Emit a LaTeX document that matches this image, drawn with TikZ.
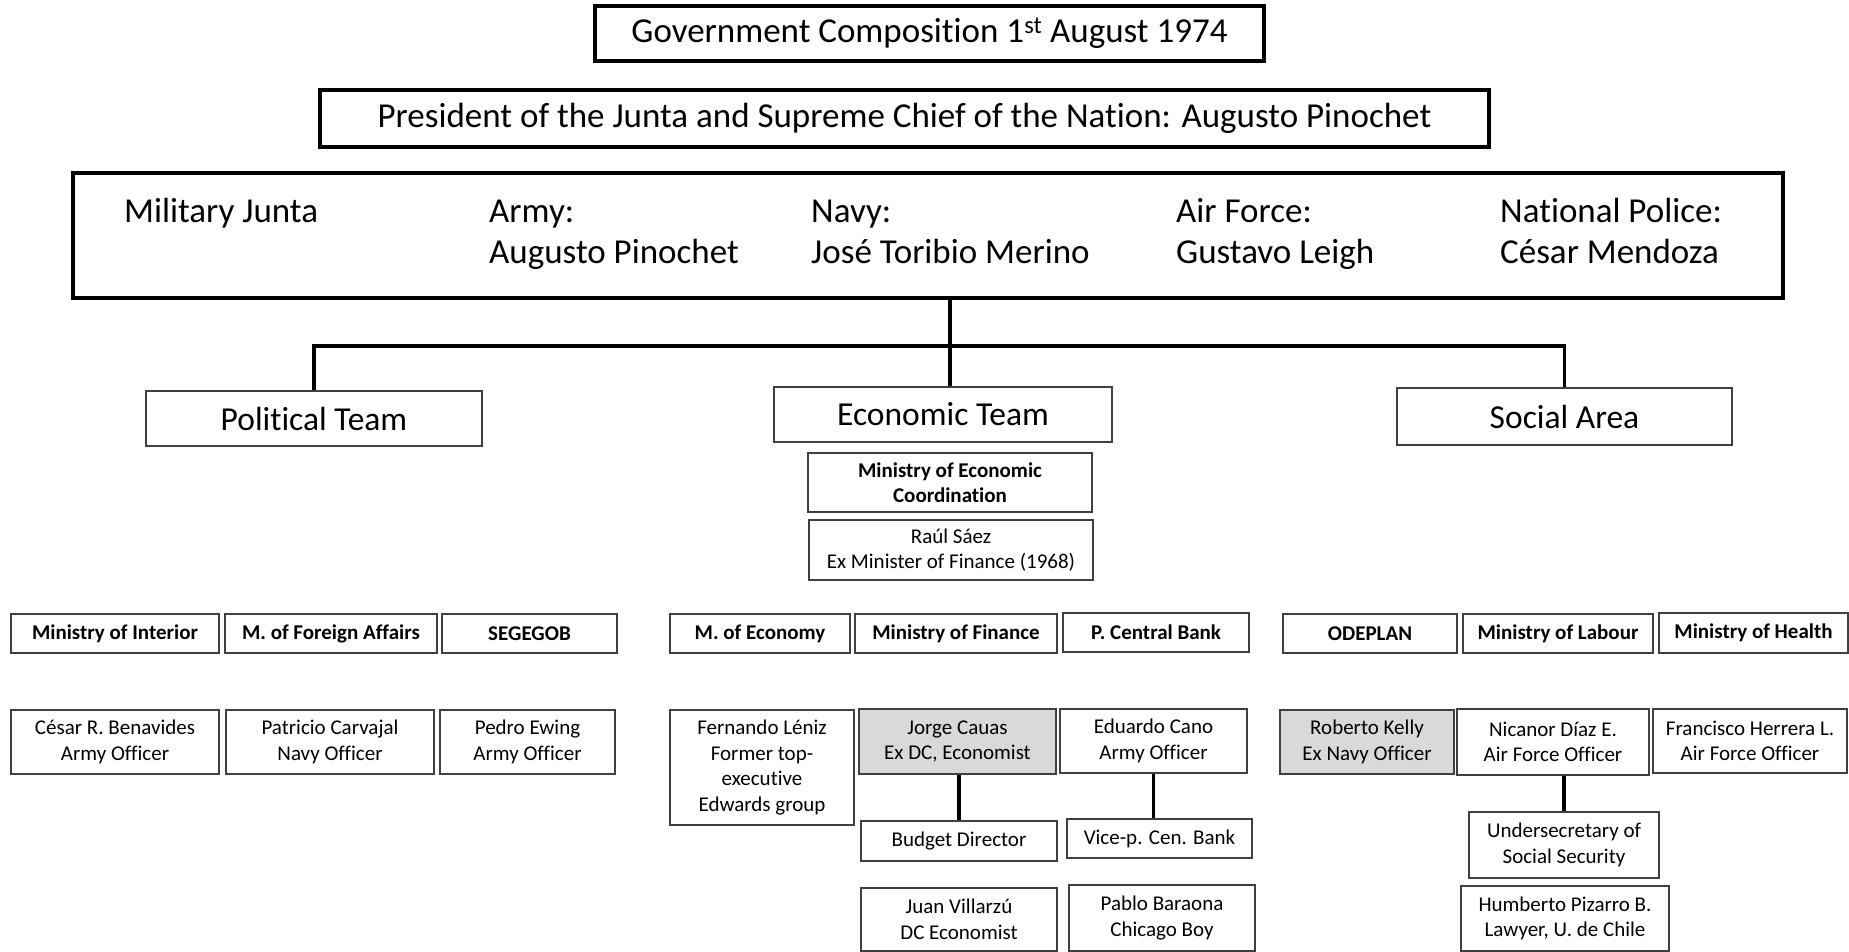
\documentclass[tikz,border=0pt]{standalone}
\usepackage{fontspec}
\setmainfont{Carlito}[Ligatures={NoCommon}]
\usepackage{tikz}
\usetikzlibrary{positioning}
\definecolor{boxgray}{RGB}{64,64,64}
\definecolor{cellgray}{RGB}{217,217,217}

\begin{document}
\begin{tikzpicture}[x=1pt,y=-1pt,
    wh/.style 2 args={minimum width=#1pt,minimum height=#2pt},
    head/.style={draw=black,line width=3.5pt,inner sep=0pt,
                 font=\fontsize{35}{42}\selectfont},
    team/.style={draw=boxgray,line width=1.3pt,inner sep=0pt,
                 font=\fontsize{33.5}{40}\selectfont},
    mini/.style={draw=boxgray,line width=1.3pt,inner sep=0pt,align=center,
                 font=\fontsize{21}{25.6}\selectfont\bfseries},
    pers/.style={draw=boxgray,line width=1.3pt,inner sep=0pt,align=center,
                 font=\fontsize{21}{25.6}\selectfont},
    grayed/.style={fill=cellgray},
    jtxt/.style={anchor=base west,inner sep=0pt,font=\fontsize{35}{42}\selectfont},
    link/.style={line width=3.5pt}
  ]
    \useasboundingbox (0,0) rectangle (1849,951);
    \fill[white] (0,0) rectangle (1849,951);
    % top
    \node[head,wh={669}{55}] (title) at (929.5,33.5) {Government Composition 1\textsuperscript{st} August 1974};
    \node[head,wh={1169}{57}] (pres) at (904.5,118.5) {President of the Junta and Supreme Chief of the Nation: Augusto Pinochet};
    \node[head,wh={1710}{125}] (junta) at (928,235.5) {};
    \node[jtxt] (jhead) at (124,222) {Military Junta};
    \foreach \n/\x/\a/\b in {army/489/Army:/Augusto Pinochet,
        navy/811/Navy:/José Toribio Merino,
        air/1176/Air Force:/Gustavo Leigh,
        police/1500/National Police:/César Mendoza}{
      \node[jtxt] (\n-a) at (\x,222) {\a};
      \node[jtxt] (\n-b) at (\x,263) {\b};
    }
    % teams
    \node[team,wh={336}{55}] (pol) at (314,418.5) {Political Team};
    \node[team,wh={338}{55}] (eco) at (943,414.5) {Economic Team};
    \node[team,wh={335}{57}] (soc) at (1564.5,416.5) {Social Area};
    \node[mini,wh={284}{59}] (mec) at (950,482.5) {Ministry of Economic\\Coordination};
    \node[pers,wh={284}{60}] (saez) at (951,550) {Raúl Sáez\\Ex Minister of Finance (1968)};
    \coordinate (hub) at (950,346);
    \draw[link] (junta.south -| hub) -- (eco.north -| hub);
    \draw[link] (pol.north) |- (hub) -| (soc.north);
    % ministries
    \node[mini,wh={208}{39}] (int) at (115,633.5) {Ministry of Interior};
    \node[mini,wh={212}{39}] (rex) at (331,633.5) {M. of Foreign Affairs};
    \node[mini,wh={175}{39}] (seg) at (529.5,633.5) {SEGEGOB};
    \node[mini,wh={180}{39}] (econ) at (760,633.5) {M. of Economy};
    \node[mini,wh={202}{39}] (fin) at (956,633.5) {Ministry of Finance};
    \node[mini,wh={186}{39}] (bank) at (1156,632.5) {P. Central Bank};
    \node[mini,wh={174}{39}] (odp) at (1370,633.5) {ODEPLAN};
    \node[mini,wh={190}{39}] (lab) at (1558,633.5) {Ministry of Labour};
    \node[mini,wh={189}{40}] (hlt) at (1753.5,633) {Ministry of Health};
    % people
    \node[pers,wh={208}{64}] (benav) at (115,742) {César R. Benavides\\Army Officer};
    \node[pers,wh={208}{64}] (carv) at (330,742) {Patricio Carvajal\\Navy Officer};
    \node[pers,wh={175}{64}] (ewing) at (527.5,742) {Pedro Ewing\\Army Officer};
    \node[pers,wh={184}{115}] (leniz) at (762,767.5) {Fernando Léniz\\Former top-\\executive\\Edwards group};
    \node[pers,grayed,wh={197}{65}] (cauas) at (957.5,741.5) {Jorge Cauas\\Ex DC, Economist};
    \node[pers,wh={187}{64}] (cano) at (1153.5,741) {Eduardo Cano\\Army Officer};
    \node[pers,grayed,wh={174}{64}] (kelly) at (1367,742) {Roberto Kelly\\Ex Navy Officer};
    \node[pers,wh={192}{66}] (diaz) at (1553,742) {Nicanor Díaz E.\\Air Force Officer};
    \node[pers,wh={194}{64}] (herr) at (1750,741) {Francisco Herrera L.\\Air Force Officer};
    % below
    \node[pers,wh={196}{40}] (budg) at (959,841) {Budget Director};
    \node[pers,wh={185}{39}] (vice) at (1159.5,838.5) {Vice-p. Cen. Bank};
    \node[pers,wh={196}{63}] (villa) at (959,919.5) {Juan Villarzú\\DC Economist};
    \node[pers,wh={186}{66}] (bara) at (1162,918) {Pablo Baraona\\Chicago Boy};
    \node[pers,wh={190}{66}] (usec) at (1564,845) {Undersecretary of\\Social Security};
    \node[pers,wh={208}{65}] (piz) at (1565,918.5) {Humberto Pizarro B.\\Lawyer, U. de Chile};
    \draw[link] (cauas.south -| budg) -- (budg.north);
    \draw[link] (cano.south) -- (cano.south |- vice.north);
    \draw[link] (diaz.south -| usec) -- (usec.north);
\end{tikzpicture}
\end{document}
